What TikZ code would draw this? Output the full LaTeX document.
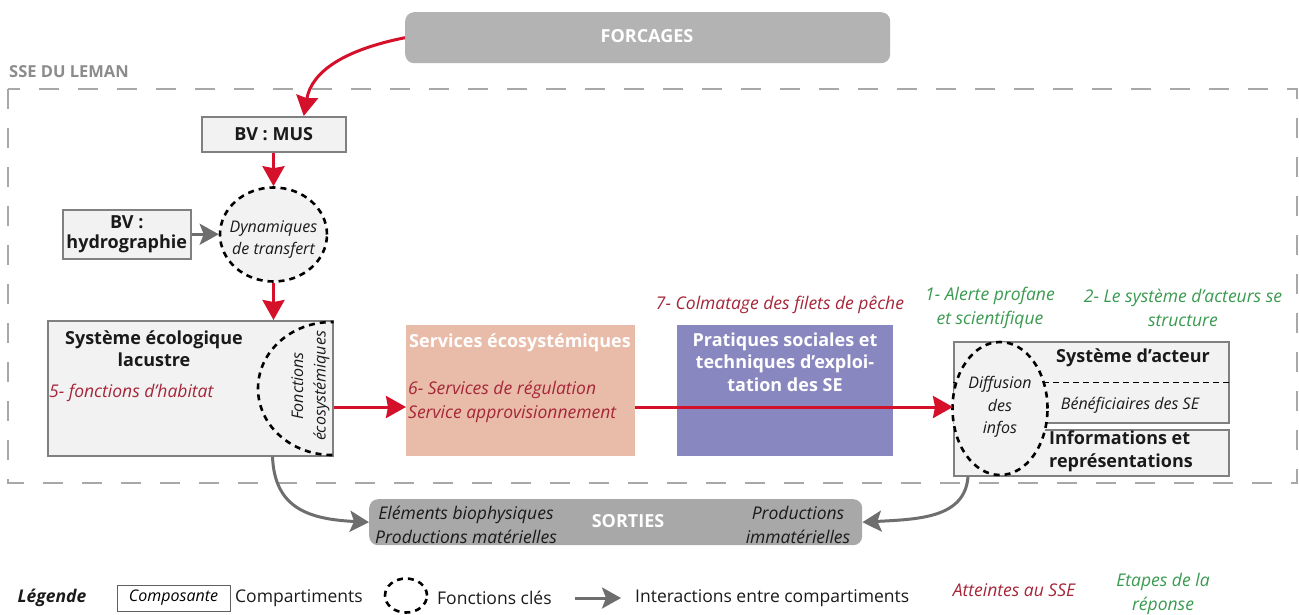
\documentclass[tikz,border=0pt]{standalone}
\usepackage{fontspec}
\setmainfont{Open Sans}
\usetikzlibrary{arrows.meta,shapes.geometric,calc}
\definecolor{boxfill}{HTML}{F2F2F2}
\definecolor{boxborder}{HTML}{808080}
\definecolor{txt}{HTML}{1A1A1A}
\definecolor{redarr}{HTML}{D5102A}
\definecolor{redtxt}{HTML}{A52539}
\definecolor{greentxt}{HTML}{3A9A50}
\definecolor{grayarr}{HTML}{6E6E6E}
\definecolor{frameg}{HTML}{A8A8A8}
\definecolor{sseg}{HTML}{8C8C8C}
\definecolor{forcfill}{HTML}{B3B3B3}
\definecolor{sortfill}{HTML}{A8A8A8}
\definecolor{servfill}{HTML}{E9BCA9}
\definecolor{pratfill}{HTML}{8987C0}
\newcommand\fsA{\fontsize{18}{22.5}\selectfont}
\newcommand\fsB{\fontsize{17.5}{24}\selectfont}
\newcommand\fsC{\fontsize{16}{22.5}\selectfont}
\begin{document}
\begin{tikzpicture}[x=1pt,y=-1pt,
  comp/.style={draw=boxborder, fill=boxfill, line width=1.5pt, inner sep=0pt, anchor=north west, align=center, text=txt, font=\fsA\bfseries},
  keyfn/.style={draw=black, fill=boxfill, line width=2.6pt, dash pattern=on 6pt off 5pt, inner sep=0pt},
  redarrow/.style={draw=redarr, line width=3pt, -{Stealth[length=20pt,width=22pt,inset=2pt]}},
  grayarrow/.style={draw=grayarr, line width=3pt, -{Stealth[length=19pt,width=21pt,inset=4pt]}},
  plainbox/.style={draw=none, inner sep=0pt, anchor=north west},
  frame/.style={draw=frameg, line width=1.6pt, dash pattern=on 20pt off 19pt},
  lbl/.style={inner sep=0pt, text=txt}]
\useasboundingbox (0,0) rectangle (1299,614);
\fill[white] (0,0) rectangle (1299,614);

% frame
\draw[frame] (8,89) rectangle (1297,483);
\node[lbl, anchor=west, font=\fontsize{16.5}{20}\selectfont\bfseries, text=sseg] (sse) at (9,72) {SSE DU LEMAN};

% forcages
\node[plainbox, fill=forcfill, rounded corners=9pt, minimum width=485pt, minimum height=51pt] (forc) at (405,12) {};
\node[lbl, font=\fsA\bfseries, text=white] (forct) at (647,36) {FORCAGES};

% BV MUS
\node[comp, minimum width=144pt, minimum height=35pt] (mus) at (201,116) {BV : MUS};
% hydro
\node[comp, minimum width=128pt, minimum height=49pt] (hydro) at (62,209) {BV :\\[-2pt]hydrographie};
% dynamiques
\node[keyfn, ellipse, minimum width=107pt, minimum height=94pt] (dyn) at (273.5,234.5) {};
\node[lbl, font=\fsC\itshape, align=center] (dynt) at (273.5,239.5) {Dynamiques\\de transfert};

% systeme ecologique
\node[comp, minimum width=285pt, minimum height=135pt] (sys) at (47,320) {};
\node[lbl, font=\fsA\bfseries, align=center] (syst) at (154,348.5) {Système écologique\\lacustre};
\node[lbl, anchor=west, font=\fsB\itshape, text=redtxt] (hab) at (49,393) {5- fonctions d’habitat};
\begin{scope}
  \clip (sys.north west) rectangle (sys.south east);
  \draw[keyfn, fill=none] (332,388.5) ellipse [x radius=74, y radius=66.5];
\end{scope}
\node[lbl, rotate=90, font=\fsC\itshape, align=center] (fe) at (310.5,386) {Fonctions\\écosystémiques};

% services
\node[plainbox, fill=servfill, minimum width=229pt, minimum height=131pt] (serv) at (406,325) {};
\node[lbl, font=\fsA\bfseries, text=white] (servt) at (520,343) {Services écosystémiques};
\node[lbl, anchor=west, font=\fsB\itshape, text=redtxt, align=left] (servr) at (408,401.5) {6- Services de régulation\\Service approvisionnement};

% pratiques
\node[plainbox, fill=pratfill, minimum width=216pt, minimum height=131pt] (prat) at (677,325) {};
\node[lbl, font=\fsA\bfseries, text=white, align=center] (pratt) at (785,362) {Pratiques sociales et\\techniques d’exploi-\\tation des SE};
\node[lbl, font=\fsB\itshape, text=redtxt] (colm) at (780,305) {7- Colmatage des filets de pêche};

% acteurs
\node[comp, minimum width=275pt, minimum height=81pt] (act) at (953,341) {};
\draw[black, line width=1pt, dash pattern=on 6pt off 4pt] ($(act.north west)+(0,41)$) -- ($(act.north east)+(0,41)$);
\node[lbl, font=\fsA\bfseries] (actt) at (1133,358) {Système d’acteur};
\node[lbl, font=\fsC\itshape] (benef) at (1130,405) {Bénéficiaires des SE};
\node[comp, minimum width=275pt, minimum height=46pt] (info) at (953,429) {};
\node[lbl, anchor=west, font=\fsA\bfseries, align=left] (infot) at (1049,451.5) {Informations et\\représentations};
\node[keyfn, ellipse, minimum width=95pt, minimum height=133pt] (diff) at (1000,408.5) {};
\node[lbl, font=\fsC\itshape, align=center] (difft) at (1000,407) {Diffusion\\des\\infos};

% etapes
\node[lbl, font=\fsB\itshape, text=greentxt, align=center] (alerte) at (990,308) {1- Alerte profane\\et scientifique};
\node[lbl, font=\fsB\itshape, text=greentxt, align=center] (struct) at (1183,308) {2- Le système d’acteurs se\\structure};

% arrows
\coordinate (ya) at (0,407);
\draw[redarrow] (forc.west) .. controls +(-60,12) and +(8,-45) .. ([xshift=30pt]mus.north);
\draw[redarrow] (mus.south -| dyn.north) -- (dyn.north);
\draw[grayarrow] (hydro.east) -- (hydro.east -| dyn.west);
\draw[redarrow] (dyn.south) -- (dyn.south |- sys.north);
\draw[redarrow] (sys.east |- ya) -- (serv.west |- ya);
\draw[redarrow] (serv.east |- ya) -- (act.west |- ya);

% sorties
\node[plainbox, fill=sortfill, rounded corners=9pt, minimum width=493pt, minimum height=46pt] (sort) at (369,499) {};
\node[lbl, font=\fsA\bfseries, text=white] (sortt) at (628,521) {SORTIES};
\node[lbl, font=\fsB\itshape, align=center] (sortl) at (466,525) {Eléments biophysiques\\Productions matérielles};
\node[lbl, font=\fsB\itshape, align=center] (sortr) at (798,525) {Productions\\immatérielles};
\draw[grayarrow] ([xshift=-61pt]sys.south east) .. controls +(2,52) and +(-60,-3) .. (sort.west);
\draw[grayarrow] ([xshift=15pt]info.south west) .. controls +(-3,42) and +(55,-3) .. (sort.east);

% legend
\node[lbl, font=\fsB\bfseries\itshape] (leg) at (52,598) {Légende};
\node[draw=txt!70, line width=1pt, fill=white, minimum width=113pt, minimum height=26pt, inner sep=0pt, font=\fsC\itshape] (lcomp) at (173.5,598) {Composante};
\node[lbl, anchor=west, font=\fsB] (lcompt) at (235,598) {Compartiments};
\node[keyfn, fill=none, ellipse, minimum width=42pt, minimum height=34pt] (lcirc) at (406,595.5) {};
\node[lbl, anchor=west, font=\fsB] (lfct) at (437,598) {Fonctions clés};
\coordinate (la) at (575,598);
\coordinate (lb) at (621,598);
\draw[grayarrow] (la) -- (lb);
\node[lbl, anchor=west, font=\fsB] (linter) at (635,598) {Interactions entre compartiments};
\node[lbl, font=\fsB\itshape, text=redtxt] (latt) at (1014,590) {Atteintes au SSE};
\node[lbl, font=\fsB\itshape, text=greentxt, align=center] (letap) at (1163,594) {Etapes de la\\réponse};
\end{tikzpicture}
\end{document}
